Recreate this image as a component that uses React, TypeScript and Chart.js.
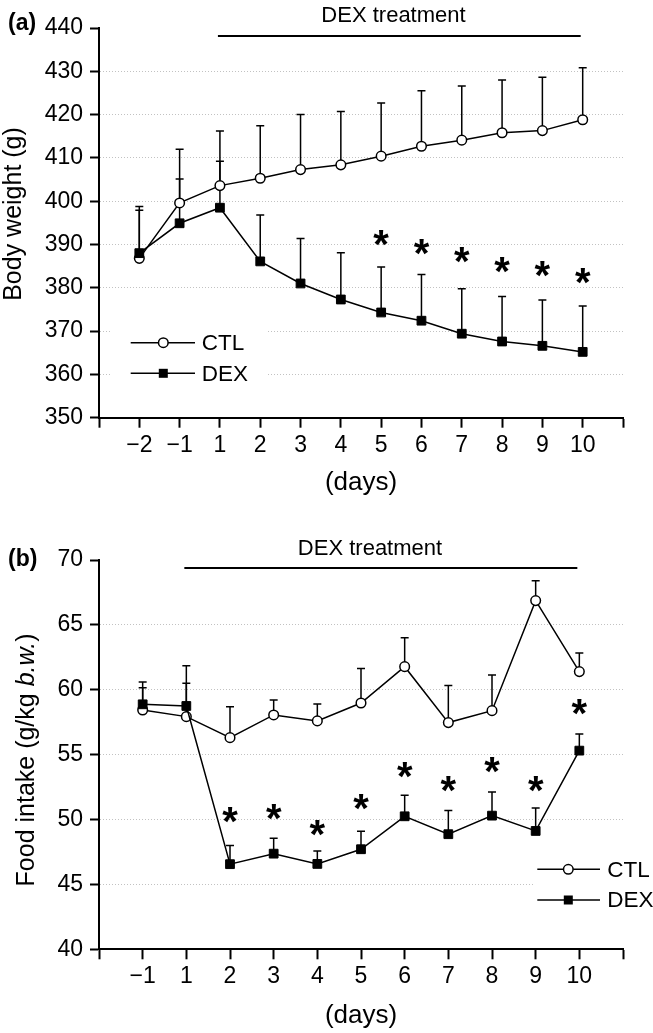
import React, { useEffect, useRef } from 'react';
import { Chart, registerables } from 'chart.js';

Chart.register(...registerables);

const FONT = '"Liberation Sans", Arial, Helvetica, sans-serif';

// ---------- Panel (a): body weight ----------
const daysA = ['\u22122', '\u22121', '1', '2', '3', '4', '5', '6', '7', '8', '9', '10'];
const ctlWeight = [386.8, 399.6, 403.6, 405.3, 407.3, 408.4, 410.4, 412.7, 414.1, 415.8, 416.3, 418.8];
const ctlWeightErr = [12.0, 12.4, 12.6, 12.1, 12.7, 12.3, 12.3, 12.8, 12.5, 12.2, 12.3, 12.0];
const dexWeight = [388.0, 394.9, 398.5, 386.1, 381.0, 377.3, 374.3, 372.4, 369.4, 367.6, 366.6, 365.2];
const dexWeightErr = [9.9, 10.2, 10.7, 10.7, 10.4, 10.8, 10.5, 10.7, 10.4, 10.4, 10.6, 10.6];
const sigWeight = [null, null, null, null, null, null, 391.5, 389.5, 387.6, 385.3, 384.3, 382.7];
const weightTicks = { min: 350, max: 440, step: 10 };

// ---------- Panel (b): food intake ----------
const daysB = ['\u22121', '1', '2', '3', '4', '5', '6', '7', '8', '9', '10'];
const ctlFood = [58.44, 57.93, 56.31, 58.06, 57.6, 58.98, 61.78, 57.47, 58.39, 66.87, 61.4];
const ctlFoodErr = [2.16, 2.57, 2.39, 1.15, 1.3, 2.65, 2.23, 2.85, 2.75, 1.54, 1.44];
const dexFood = [58.88, 58.75, 46.56, 47.37, 46.58, 47.71, 50.25, 48.87, 50.3, 49.12, 55.31];
const dexFoodErr = [1.28, 3.11, 1.43, 1.19, 1.0, 1.39, 1.62, 1.82, 1.83, 1.77, 1.29];
const sigFood = [null, null, 50.35, 50.6, 49.33, 51.38, 53.82, 52.74, 54.2, 52.74, 58.7];
const foodTicks = { min: 40, max: 70, step: 5 };

const seriesNames = ['CTL', 'DEX'];
const treatmentLabel = 'DEX treatment';
const treatmentDays = ['1', '10'];
const xTitle = '(days)';

type Part = { t: string; italic?: boolean };
type Panel = {
  top: number;
  height: number;
  padTop: number;
  xAxisHeight: number;
  days: string[];
  ctl: number[];
  ctlErr: number[];
  dex: number[];
  dexErr: number[];
  sig: (number | null)[];
  ticks: { min: number; max: number; step: number };
  yTitle: Part[];
  yTitleX: number;
  yTitleY: number;
  label: string;
  labelY: number;
  treatTextX: number;
  treatTextY: number;
  legend: { bx: number; by: number; bw: number; bh: number; rows: number[]; l1: number; l2: number; mx: number; tx: number };
};

const panels: Panel[] = [
  {
    top: 0,
    height: 500,
    padTop: 28,
    xAxisHeight: 82.3,
    days: daysA,
    ctl: ctlWeight,
    ctlErr: ctlWeightErr,
    dex: dexWeight,
    dexErr: dexWeightErr,
    sig: sigWeight,
    ticks: weightTicks,
    yTitle: [{ t: 'Body weight (g)' }],
    yTitleX: 14,
    yTitleY: 214,
    label: '(a)',
    labelY: 24,
    treatTextX: 393.5,
    treatTextY: 21.7,
    legend: { bx: 112, by: 324, bw: 155, bh: 66, rows: [342.7, 373.3], l1: 130.7, l2: 195, mx: 163.3, tx: 201.7 },
  },
  {
    top: 500,
    height: 533,
    padTop: 60,
    xAxisHeight: 83.7,
    days: daysB,
    ctl: ctlFood,
    ctlErr: ctlFoodErr,
    dex: dexFood,
    dexErr: dexFoodErr,
    sig: sigFood,
    ticks: foodTicks,
    yTitle: [{ t: 'Food intake (g/kg ' }, { t: 'b.w.', italic: true }, { t: ')' }],
    yTitleX: 27,
    yTitleY: 260,
    label: '(b)',
    labelY: 60,
    treatTextX: 370,
    treatTextY: 55,
    legend: { bx: 533, by: 352, bw: 120, bh: 62, rows: [369.3, 400], l1: 537.3, l2: 600, mx: 568.3, tx: 607.3 },
  },
];

function drawCircle(ctx: CanvasRenderingContext2D, x: number, y: number) {
  ctx.beginPath();
  ctx.arc(x, y, 4.8, 0, Math.PI * 2);
  ctx.fillStyle = '#fff';
  ctx.fill();
  ctx.lineWidth = 1.5;
  ctx.strokeStyle = '#000';
  ctx.stroke();
}

function drawSquare(ctx: CanvasRenderingContext2D, x: number, y: number) {
  ctx.fillStyle = '#000';
  ctx.fillRect(x - 4.5, y - 4.5, 9, 9);
}

function buildChart(canvas: HTMLCanvasElement, p: Panel): Chart {
  const labels = ['', ...p.days, ''];
  const pad = (arr: (number | null)[]) => [null, ...arr, null];
  const { min, max, step } = p.ticks;

  const decor = {
    id: 'decor',
    beforeDatasetsDraw(chart: any) {
      const ctx = chart.ctx as CanvasRenderingContext2D;
      const xs = chart.scales.x;
      const ys = chart.scales.y;
      ctx.save();
      ctx.strokeStyle = '#000';
      ctx.lineWidth = 1.5;
      const groups = [
        { m: p.ctl, e: p.ctlErr },
        { m: p.dex, e: p.dexErr },
      ];
      groups.forEach((g) => {
        g.m.forEach((v, i) => {
          const px = xs.getPixelForValue(i + 1);
          const y0 = ys.getPixelForValue(v);
          const y1 = ys.getPixelForValue(v + g.e[i]);
          ctx.beginPath();
          ctx.moveTo(px, y0);
          ctx.lineTo(px, y1);
          ctx.moveTo(px - 4, y1);
          ctx.lineTo(px + 4, y1);
          ctx.stroke();
        });
      });
      ctx.restore();
    },
    afterDraw(chart: any) {
      const ctx = chart.ctx as CanvasRenderingContext2D;
      const xs = chart.scales.x;
      const ys = chart.scales.y;
      const area = chart.chartArea;
      ctx.save();

      // significance asterisks
      ctx.fillStyle = '#000';
      ctx.font = `bold 40px ${FONT}`;
      ctx.textAlign = 'center';
      ctx.textBaseline = 'alphabetic';
      const mt = ctx.measureText('*');
      const asc = mt.actualBoundingBoxAscent;
      const desc = mt.actualBoundingBoxDescent;
      p.sig.forEach((v, i) => {
        if (v == null) return;
        const px = xs.getPixelForValue(i + 1);
        const py = ys.getPixelForValue(v);
        ctx.fillText('*', px, py + (asc - desc) / 2);
      });

      // treatment bar
      const i1 = p.days.indexOf(treatmentDays[0]) + 1;
      const i2 = p.days.indexOf(treatmentDays[1]) + 1;
      const lineY = area.top + 8;
      ctx.strokeStyle = '#000';
      ctx.lineWidth = 2;
      ctx.beginPath();
      ctx.moveTo(xs.getPixelForValue(i1) - 2, lineY);
      ctx.lineTo(xs.getPixelForValue(i2) - 2, lineY);
      ctx.stroke();
      ctx.font = `22px ${FONT}`;
      ctx.textAlign = 'center';
      ctx.textBaseline = 'alphabetic';
      ctx.fillText(treatmentLabel, p.treatTextX, p.treatTextY);

      // panel label
      ctx.font = `bold 23px ${FONT}`;
      ctx.textAlign = 'left';
      ctx.textBaseline = 'middle';
      ctx.fillText(p.label, 8, p.labelY);

      // y title
      ctx.save();
      ctx.translate(p.yTitleX, p.yTitleY);
      ctx.rotate(-Math.PI / 2);
      ctx.textBaseline = 'middle';
      ctx.textAlign = 'left';
      const fontOf = (part: Part) => `${part.italic ? 'italic ' : ''}25px ${FONT}`;
      let total = 0;
      p.yTitle.forEach((part) => {
        ctx.font = fontOf(part);
        total += ctx.measureText(part.t).width;
      });
      let cx = -total / 2;
      p.yTitle.forEach((part) => {
        ctx.font = fontOf(part);
        ctx.fillText(part.t, cx, 0);
        cx += ctx.measureText(part.t).width;
      });
      ctx.restore();

      // legend
      const L = p.legend;
      ctx.fillStyle = '#fff';
      ctx.fillRect(L.bx, L.by, L.bw, L.bh);
      seriesNames.forEach((name, k) => {
        const ry = L.rows[k];
        ctx.strokeStyle = '#000';
        ctx.lineWidth = 1.5;
        ctx.beginPath();
        ctx.moveTo(L.l1, ry);
        ctx.lineTo(L.l2, ry);
        ctx.stroke();
        if (k === 0) drawCircle(ctx, L.mx, ry);
        else drawSquare(ctx, L.mx, ry);
        ctx.fillStyle = '#000';
        ctx.font = `22.5px ${FONT}`;
        ctx.textAlign = 'left';
        ctx.textBaseline = 'middle';
        ctx.fillText(name, L.tx, ry + 1);
      });

      ctx.restore();
    },
  };

  return new Chart(canvas, {
    type: 'line',
    data: {
      labels,
      datasets: [
        {
          label: seriesNames[1],
          data: pad(p.dex),
          order: 0,
          borderColor: '#000',
          borderWidth: 1.5,
          pointStyle: 'rect',
          pointRadius: 6.2,
          pointBackgroundColor: '#000',
          pointBorderColor: '#000',
          pointBorderWidth: 1,
          tension: 0,
        },
        {
          label: seriesNames[0],
          data: pad(p.ctl),
          order: 1,
          borderColor: '#000',
          borderWidth: 1.5,
          pointStyle: 'circle',
          pointRadius: 4.8,
          pointBackgroundColor: '#fff',
          pointBorderColor: '#000',
          pointBorderWidth: 1.5,
          tension: 0,
        },
      ],
    },
    options: {
      responsive: false,
      animation: false,
      devicePixelRatio: 1,
      layout: { padding: { left: 0, right: 30, top: p.padTop, bottom: 0 } },
      plugins: { legend: { display: false }, tooltip: { enabled: false }, title: { display: false } },
      scales: {
        x: {
          type: 'category',
          offset: false,
          afterFit: (s: any) => {
            s.height = p.xAxisHeight;
          },
          grid: {
            display: true,
            drawOnChartArea: false,
            drawTicks: true,
            tickLength: 10,
            tickWidth: 2,
            tickColor: '#000',
          },
          border: { display: true, color: '#000', width: 2 },
          ticks: {
            autoSkip: false,
            maxRotation: 0,
            minRotation: 0,
            padding: 4,
            color: '#000',
            font: { family: FONT, size: 23 },
          },
          title: {
            display: true,
            text: xTitle,
            color: '#000',
            font: { family: FONT, size: 26 },
            padding: { top: 0, bottom: 2 },
          },
        },
        y: {
          type: 'linear',
          min,
          max,
          afterFit: (s: any) => {
            s.width = 99;
          },
          grid: {
            display: true,
            drawOnChartArea: true,
            drawTicks: true,
            tickLength: 9,
            tickWidth: 2,
            tickColor: '#000',
            lineWidth: 1,
            color: (c: any) =>
              c.tick && (c.tick.value === max || c.tick.value === min) ? 'rgba(0,0,0,0)' : '#c2c2c2',
          },
          border: { display: true, color: '#000', width: 2, dash: [1, 2] },
          ticks: {
            stepSize: step,
            padding: 7,
            color: '#000',
            font: { family: FONT, size: 23 },
          },
        },
      },
    },
    plugins: [decor],
  } as any);
}

function PanelCanvas({ p }: { p: Panel }) {
  const ref = useRef<HTMLCanvasElement | null>(null);
  useEffect(() => {
    if (!ref.current) return;
    const chart = buildChart(ref.current, p);
    return () => chart.destroy();
  }, [p]);
  return (
    <canvas
      ref={ref}
      width={653}
      height={p.height}
      style={{ position: 'absolute', left: 0, top: p.top, width: 653, height: p.height }}
    />
  );
}

export default function App() {
  return (
    <div style={{ position: 'absolute', left: 0, top: 0, width: 653, height: 1033, background: '#fff' }}>
      {panels.map((p, i) => (
        <PanelCanvas key={i} p={p} />
      ))}
    </div>
  );
}
